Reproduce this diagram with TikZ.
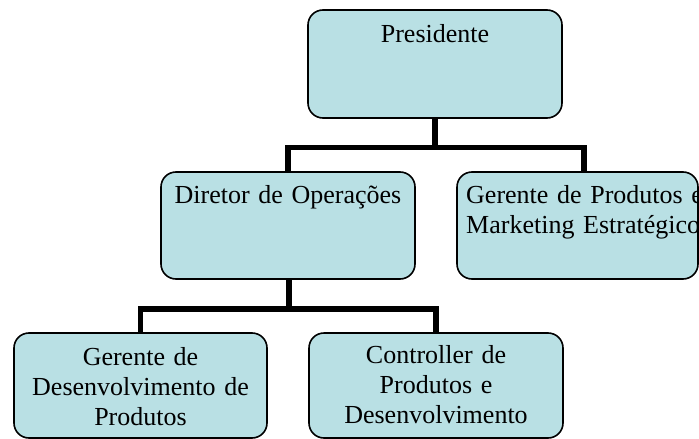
\documentclass[tikz,border=0pt]{standalone}
\usepackage{fontspec}
\setmainfont{Liberation Serif}
\definecolor{boxfill}{RGB}{185,224,228}
\begin{document}
\begin{tikzpicture}[x=1pt,y=-1pt,
  orgbox/.style={draw=black, line width=1.6pt, fill=boxfill, rounded corners=15pt, inner sep=0pt, outer sep=0pt, rectangle},
  lbl/.style={font=\fontsize{26}{30}\selectfont, inner sep=0pt, text width=300pt, align=center},
  link/.style={line width=5.5pt, draw=black}]
\useasboundingbox (0,0) rectangle (699,439);
\begin{scope}
\clip (0,0) rectangle (699,439);
% boxes
\node[orgbox, minimum width=254pt, minimum height=108pt] (pres) at (435,64) {};
\node[orgbox, minimum width=254pt, minimum height=107pt] (dir) at (288,225.5) {};
\node[orgbox, minimum width=241pt, minimum height=107pt] (gpm) at (577.5,225.5) {};
\node[orgbox, minimum width=253pt, minimum height=105pt] (gdp) at (140.5,385.5) {};
\node[orgbox, minimum width=254pt, minimum height=105pt] (ctl) at (436,385.5) {};
% junctions
\coordinate (j1) at (435,147.5);
\coordinate (j2) at (289,309);
\coordinate (g1) at (584,172);
% connectors
\draw[link] (pres.south) -- (j1);
\draw[link] (dir.north) |- (j1) -| (g1);
\draw[link] (j2 |- dir.south) -- (j2);
\draw[link] (gdp.north) |- (j2) -| (ctl.north);
% texts
\node[lbl, anchor=base] (presT) at ([yshift=-32pt]pres.north) {Presidente};
\node[lbl, anchor=base] (dirT) at ([yshift=-31pt]dir.north) {Diretor de Operações};
\node[lbl, anchor=base west, align=left] (gpmT) at (466,203) {Gerente de Produtos e\\Marketing Estratégico};
\node[lbl, anchor=base] (gdpT) at ([yshift=-32pt]gdp.north) {Gerente de\\Desenvolvimento de\\Produtos};
\node[lbl, anchor=base] (ctlT) at ([yshift=-30pt]ctl.north) {Controller de\\Produtos e\\Desenvolvimento};
\end{scope}
\end{tikzpicture}
\end{document}
